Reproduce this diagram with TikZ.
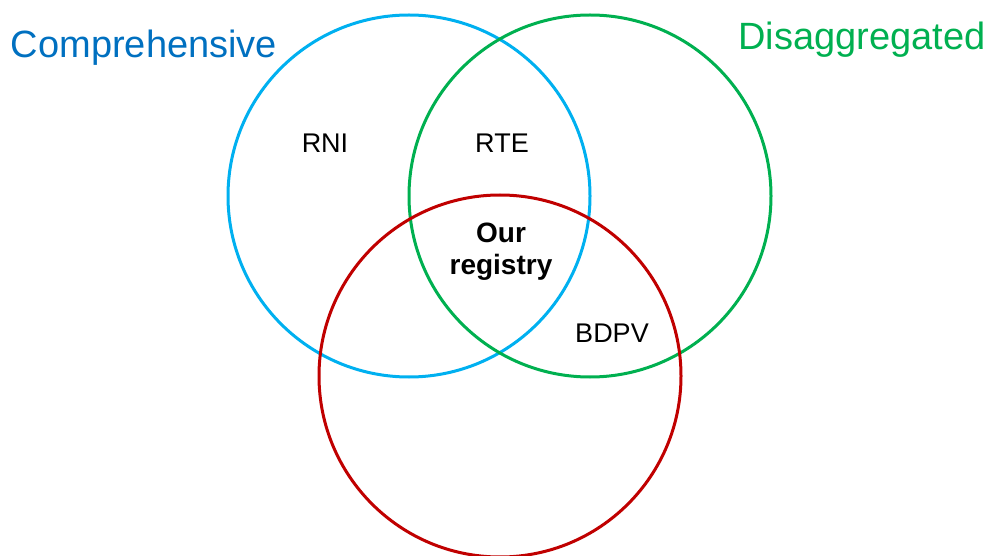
\documentclass[tikz,border=0pt]{standalone}
\usepackage{fontspec}
\setmainfont{Liberation Sans}
\definecolor{ringblue}{HTML}{00B0F0}
\definecolor{textblue}{HTML}{0070C0}
\definecolor{ringgreen}{HTML}{00B050}
\definecolor{ringred}{HTML}{C00000}
\begin{document}
\begin{tikzpicture}[x=1pt,y=1pt,
    ring/.style={circle,minimum size=362pt,inner sep=0pt,line width=3pt},
    setname/.style={font=\fontsize{38}{44}\selectfont,anchor=base},
    source/.style={font=\fontsize{27}{32}\selectfont,anchor=base}]
    \useasboundingbox (0,0) rectangle (988,555);
    \node[ring,draw=ringblue]  (comp)  at (409,359) {};
    \node[ring,draw=ringgreen] (disag) at (590,359) {};
    \node[ring,draw=ringred]   (ours)  at (500,179) {};
    \node[setname,text=textblue]  (compname)  at (144,497) {Comprehensive};
    \node[setname,text=ringgreen] (disagname) at (862,505) {Disaggregated};
    \node[source] (rni)  at (325,402) {RNI};
    \node[source] (rte)  at (502,402) {RTE};
    \node[source] (bdpv) at (612,213) {BDPV};
    \node[source,font=\fontsize{28}{32}\selectfont\bfseries,align=center] (reg) at (501,280) {Our\\registry};
\end{tikzpicture}
\end{document}
